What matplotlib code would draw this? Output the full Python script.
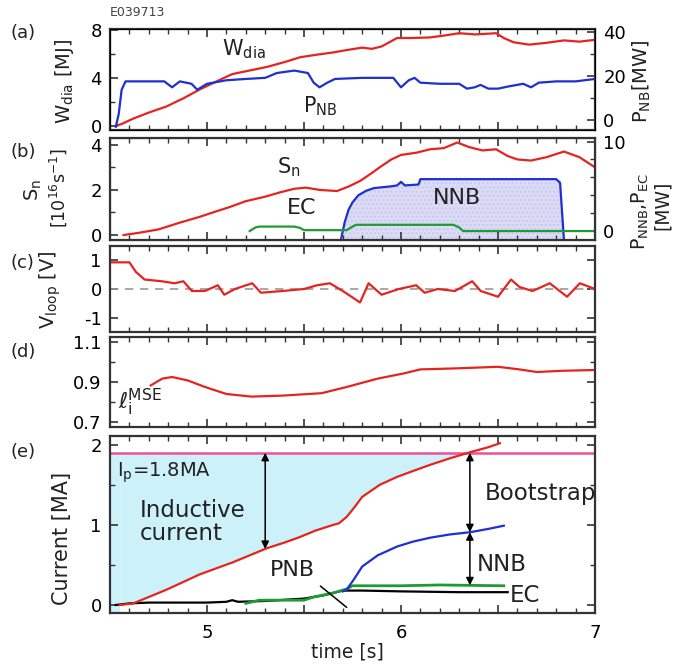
import numpy as np
import matplotlib.pyplot as plt
from matplotlib.ticker import MultipleLocator, FixedLocator, FuncFormatter

plt.rcParams['font.family'] = ['DejaVu Sans']
plt.rcParams['axes.unicode_minus'] = False
plt.rcParams['mathtext.default'] = 'regular'

# ---- data ----
# (a) stored energy [MJ] and PNB power [MW]
t_wdia = [4.53, 4.56, 4.62, 4.7, 4.79, 4.88, 4.96, 5.05, 5.13, 5.22, 5.31, 5.4, 5.48, 5.56,
          5.65, 5.72, 5.8, 5.85, 5.9, 5.98, 6.05, 6.15, 6.22, 6.3, 6.38, 6.44, 6.49, 6.53,
          6.58, 6.66, 6.75, 6.84, 6.92, 7.0]
wdia = [0.0, 0.15, 0.6, 1.1, 1.6, 2.3, 3.0, 3.7, 4.3, 4.6, 4.9, 5.3, 5.7, 5.9,
        6.1, 6.3, 6.5, 6.4, 6.6, 7.3, 7.3, 7.35, 7.5, 7.7, 7.6, 7.65, 7.7, 7.3,
        6.95, 6.75, 6.9, 7.1, 7.0, 7.15]
t_pnb = [4.53, 4.545, 4.56, 4.58, 4.7, 4.78, 4.82, 4.86, 4.92, 4.95, 5.0, 5.1, 5.2, 5.3,
         5.36, 5.45, 5.52, 5.55, 5.58, 5.62, 5.66, 5.8, 5.96, 6.0, 6.04, 6.07, 6.1, 6.2,
         6.3, 6.34, 6.38, 6.41, 6.45, 6.5, 6.56, 6.63, 6.67, 6.71, 6.8, 6.9, 7.0]
pnb = [-3.0, 2.8, 13.8, 17.6, 17.6, 17.6, 14.9, 17.6, 16.5, 13.8, 16.5, 18.1, 18.7, 19.2,
       21.4, 22.5, 21.4, 17.0, 14.9, 17.0, 18.7, 19.2, 19.2, 14.9, 18.1, 19.2, 17.0, 16.5,
       16.5, 14.3, 14.9, 16.0, 14.3, 14.3, 15.4, 16.5, 14.9, 17.0, 17.6, 17.6, 18.7]

# (b) neutron rate [1e16 /s], NNB and EC power [MW]
t_sn = [4.57, 4.65, 4.75, 4.86, 4.96, 5.03, 5.12, 5.2, 5.3, 5.38, 5.45, 5.51, 5.58, 5.67,
        5.73, 5.79, 5.85, 5.89, 5.95, 6.0, 6.08, 6.15, 6.22, 6.29, 6.35, 6.42, 6.49, 6.55,
        6.6, 6.67, 6.75, 6.84, 6.92, 7.0]
sn = [0.0, 0.1, 0.25, 0.55, 0.8, 1.0, 1.25, 1.5, 1.7, 1.9, 2.05, 2.1, 2.0, 1.95,
      2.15, 2.4, 2.75, 3.0, 3.35, 3.55, 3.65, 3.8, 3.85, 4.1, 3.9, 3.75, 3.8, 3.5,
      3.35, 3.3, 3.45, 3.7, 3.45, 3.0]
t_nnb = [5.69, 5.71, 5.73, 5.75, 5.78, 5.82, 5.86, 5.95, 5.98, 6.0, 6.02, 6.09, 6.1, 6.8, 6.82, 6.84]
nnb = [-1.0, 1.0, 2.4, 3.2, 4.0, 4.5, 4.8, 5.0, 5.1, 5.5, 5.1, 5.2, 5.8, 5.8, 5.4, -1.0]
t_ec = [5.22, 5.25, 5.27, 5.45, 5.48, 5.5, 5.72, 5.75, 5.77, 6.27, 6.3, 6.32, 7.0]
ec = [0.0, 0.4, 0.5, 0.5, 0.35, 0.1, 0.1, 0.5, 0.7, 0.7, 0.4, 0.0, 0.0]

# (c) loop voltage [V]
t_vloop = [4.51, 4.6, 4.633, 4.678, 4.767, 4.833, 4.878, 4.922, 4.989, 5.056, 5.089, 5.144,
           5.233, 5.278, 5.389, 5.5, 5.567, 5.633, 5.7, 5.789, 5.833, 5.9, 5.989, 6.078,
           6.122, 6.189, 6.278, 6.367, 6.411, 6.5, 6.567, 6.611, 6.678, 6.767, 6.856, 6.922, 7.0]
vloop = [0.93, 0.93, 0.6, 0.33, 0.27, 0.2, 0.27, -0.07, -0.07, 0.13, -0.2, 0.0,
         0.2, -0.13, -0.07, 0.0, 0.13, 0.2, -0.07, -0.47, 0.2, -0.2, 0.0, 0.13,
         -0.13, 0.0, -0.07, 0.27, -0.07, -0.27, 0.33, 0.07, -0.07, 0.2, -0.27, 0.2, 0.0]

# (d) internal inductance (MSE)
t_li = [4.71, 4.77, 4.82, 4.9, 4.99, 5.1, 5.23, 5.39, 5.59, 5.72, 5.88, 6.01, 6.1, 6.28,
        6.5, 6.61, 6.7, 6.83, 7.0]
li = [0.883, 0.917, 0.925, 0.908, 0.875, 0.84, 0.827, 0.832, 0.844, 0.875, 0.917, 0.942,
      0.963, 0.968, 0.976, 0.963, 0.95, 0.956, 0.96]

# (e) currents [MA]
ip_level = 1.9
t_ni = [4.55, 4.62, 4.7, 4.79, 4.88, 4.96, 5.05, 5.13, 5.22, 5.31, 5.4, 5.48, 5.56, 5.65,
        5.68, 5.72, 5.76, 5.8, 5.89, 5.98, 6.07, 6.15, 6.25, 6.36, 6.45, 6.51]
i_ni = [0.0, 0.02, 0.1, 0.19, 0.29, 0.38, 0.46, 0.53, 0.62, 0.71, 0.78, 0.85, 0.93, 1.0,
        1.02, 1.1, 1.22, 1.35, 1.5, 1.6, 1.68, 1.75, 1.83, 1.91, 1.97, 2.02]
t_inb = [5.70, 5.72, 5.76, 5.80, 5.88, 5.98, 6.06, 6.15, 6.25, 6.36, 6.45, 6.53]
i_nnb = [0.17, 0.19, 0.33, 0.48, 0.62, 0.73, 0.79, 0.84, 0.88, 0.91, 0.95, 0.99]
t_iec = [5.2, 5.27, 5.5, 5.55, 5.65, 5.72, 5.75, 6.0, 6.2, 6.53]
i_ec = [0.02, 0.06, 0.06, 0.1, 0.15, 0.2, 0.24, 0.24, 0.25, 0.24]
t_ipnb = [4.53, 4.6, 4.7, 5.0, 5.1, 5.13, 5.16, 5.3, 5.5, 5.6, 5.7, 5.8, 6.0, 6.3, 6.55]
i_pnb = [0.0, 0.02, 0.03, 0.03, 0.04, 0.06, 0.04, 0.05, 0.08, 0.12, 0.18, 0.18, 0.17, 0.16, 0.16]

RED = '#e52420'
BLUE = '#1f2fd0'
GREEN = '#1f9a35'
PINK = '#f0509a'
SPINE = '#333333'

W, H = 677, 671
fig = plt.figure(figsize=(W / 100, H / 100), dpi=100)
L, R = 110, 595


def rect(top, bottom):
    return [L / W, 1 - bottom / H, (R - L) / W, (bottom - top) / H]


def style(ax, right=True):
    ax.set_xlim(4.5, 7)
    ax.xaxis.set_major_locator(MultipleLocator(0.5))
    ax.xaxis.set_minor_locator(MultipleLocator(0.1))
    ax.tick_params(which='both', direction='in', top=True, right=right, labelsize=13,
                   color=SPINE, pad=6, labelbottom=False)
    ax.tick_params(which='major', length=6, width=1.2)
    ax.tick_params(which='minor', length=3.5, width=1)
    for s in ax.spines.values():
        s.set_linewidth(1.6)
        s.set_color(SPINE)


def style_twin(ax2):
    ax2.tick_params(which='both', direction='in', right=True, labelsize=13,
                    color=SPINE, pad=6)
    ax2.tick_params(which='major', length=6, width=1.2)
    ax2.tick_params(which='minor', length=3.5, width=1)


def yticks(ax, major, minor, labels=None):
    ax.yaxis.set_major_locator(FixedLocator(major))
    ax.yaxis.set_minor_locator(FixedLocator(minor))
    if labels is not None:
        ax.set_yticklabels(labels)


# (a)
ax_a = fig.add_axes(rect(29, 130))
style(ax_a, right=False)
ax_a.plot(t_wdia, wdia, color=RED, lw=1.6)
ax_a.set_ylim(-0.35, 8.05)
yticks(ax_a, [0, 4, 8], [2, 6])
ax_a2 = ax_a.twinx()
style_twin(ax_a2)
ax_a2.plot(t_pnb, pnb, color=BLUE, lw=1.6)
ax_a2.set_ylim(-4.5, 41.4)
yticks(ax_a2, [0, 20, 40], [10, 30])
ax_a.text(5.19, 6.4, r'W$_{dia}$', fontsize=15, ha='center', va='center', color='#222')
ax_a.text(5.495, 1.6, r'P$_{NB}$', fontsize=15, ha='left', va='center', color='#222')

# (b)
ax_b = fig.add_axes(rect(138, 240))
style(ax_b, right=False)
ax_b.set_ylim(-0.22, 4.3)
yticks(ax_b, [0, 2, 4], [1, 3])
ax_b2 = ax_b.twinx()
style_twin(ax_b2)
ax_b2.set_ylim(-1.0, 10.4)
yticks(ax_b2, [0, 10], [2, 4, 6, 8])
ax_b2.fill_between(t_nnb, nnb, -1.0, color='#dcdcf6', hatch='....', edgecolor='#c8c8ef', lw=0)
ax_b2.plot(t_nnb, nnb, color=BLUE, lw=1.6)
ax_b2.plot(t_ec, ec, color=GREEN, lw=1.6)
ax_b.set_zorder(ax_b2.get_zorder() + 1)
ax_b.patch.set_visible(False)
ax_b.plot(t_sn, sn, color=RED, lw=1.6)
ax_b.text(5.42, 3.0, r'S$_{n}$', fontsize=15, ha='center', va='center', color='#222')
ax_b.text(5.49, 1.2, 'EC', fontsize=16, ha='center', va='center', color='#222')
ax_b.text(6.29, 1.64, 'NNB', fontsize=16, ha='center', va='center', color='#222')

# (c)
ax_c = fig.add_axes(rect(246, 332))
style(ax_c)
ax_c.axhline(0, color='#999999', lw=1.2, ls=(0, (5, 4)))
ax_c.plot(t_vloop, vloop, color=RED, lw=1.6)
ax_c.set_ylim(-1.5, 1.5)
yticks(ax_c, [-1, 0, 1], [])

# (d)
ax_d = fig.add_axes(rect(337, 427))
style(ax_d)
ax_d.plot(t_li, li, color=RED, lw=1.6)
ax_d.set_ylim(0.675, 1.125)
yticks(ax_d, [0.7, 0.9, 1.1], [0.8, 1.0], ['0.7', '0.9', '1.1'])
ax_d.text(4.54, 0.8, r'$\ell_{i}^{MSE}$', fontsize=16, ha='left', va='center', color='#222')

# (e)
ax_e = fig.add_axes(rect(436, 613))
style(ax_e)
ymin_e, ymax_e = -0.1, 2.11
ax_e.set_ylim(ymin_e, ymax_e)
yticks(ax_e, [0, 1, 2], [0.5, 1.5])
ni = np.array(i_ni)
ax_e.fill_between([4.5, t_ni[0]], ymin_e, ip_level, color='#ccf1f8', lw=0)
ax_e.fill_between(t_ni, ni, ip_level, where=ni <= ip_level, interpolate=True,
                  color='#ccf1f8', lw=0)
ax_e.axhline(ip_level, color=PINK, lw=1.8)
ax_e.plot(t_ipnb, i_pnb, color='black', lw=1.6)
ax_e.plot(t_iec, i_ec, color=GREEN, lw=2.0)
ax_e.plot(t_inb, i_nnb, color=BLUE, lw=1.6)
ax_e.plot(t_ni, i_ni, color=RED, lw=1.6)

arr = dict(arrowstyle='<|-|>', color='black', lw=1.1, mutation_scale=11, shrinkA=0, shrinkB=0)
t_ind, t_bs = 5.30, 6.355
ax_e.annotate('', xy=(t_ind, np.interp(t_ind, t_ni, i_ni)), xytext=(t_ind, ip_level), arrowprops=arr)
y_nnb_bs = np.interp(t_bs, t_inb, i_nnb)
ax_e.annotate('', xy=(t_bs, y_nnb_bs), xytext=(t_bs, ip_level), arrowprops=arr)
ax_e.annotate('', xy=(t_bs, np.interp(t_bs, t_iec, i_ec)), xytext=(t_bs, y_nnb_bs), arrowprops=arr)
ax_e.annotate('PNB', xy=(5.72, -0.03), xytext=(5.44, 0.44), fontsize=16, ha='center', va='center',
              color='#222', arrowprops=dict(arrowstyle='-', color='black', lw=1.1,
                                            relpos=(0.95, 0.0), shrinkA=4, shrinkB=0))
ax_e.text(4.535, 1.65, r'I$_{p}$=1.8MA', fontsize=14, ha='left', va='center', color='#222')
ax_e.text(4.655, 1.04, 'Inductive\ncurrent', fontsize=16.5, ha='left', va='center',
          color='#222', linespacing=1.0)
ax_e.text(6.43, 1.39, 'Bootstrap', fontsize=16.5, ha='left', va='center', color='#222')
ax_e.text(6.39, 0.51, 'NNB', fontsize=16.5, ha='left', va='center', color='#222')
ax_e.text(6.56, 0.12, 'EC', fontsize=16.5, ha='left', va='center', color='#222')
ax_e.xaxis.set_major_formatter(FuncFormatter(lambda v, p: f'{v:.0f}' if abs(v - round(v)) < 1e-6 else ''))
ax_e.tick_params(axis='x', labelbottom=True, pad=8)

# panel letters and axis titles
for lab, y in [('(a)', 33), ('(b)', 152), ('(c)', 263), ('(d)', 352), ('(e)', 452)]:
    fig.text(10 / W, 1 - y / H, lab, fontsize=13, ha='left', va='center', color='#222')
fig.text(110 / W, 1 - 12 / H, 'E039713', fontsize=9, ha='left', va='center', color='#444')

def ylab(x, y, s, size=14):
    fig.text(x / W, 1 - y / H, s, rotation=90, fontsize=size, ha='center', va='center', color='#222')

ylab(64, 81, r'W$_{dia}$ [MJ]')
ylab(642, 81, r'P$_{NB}$[MW]')
ylab(33, 190, r'S$_{n}$')
ylab(58, 188, r'[10$^{16}$s$^{-1}$]', 12.5)
ylab(640, 212, r'P$_{NNB}$,P$_{EC}$', 13.5)
ylab(662, 205, '[MW]', 13.5)
ylab(50, 290, r'V$_{loop}$ [V]')
ylab(62, 538, 'Current [MA]', 15)
fig.text(347 / W, 1 - 652 / H, 'time [s]', fontsize=13.5, ha='center', va='center', color='#222')

fig.savefig('out.png', dpi=100)
